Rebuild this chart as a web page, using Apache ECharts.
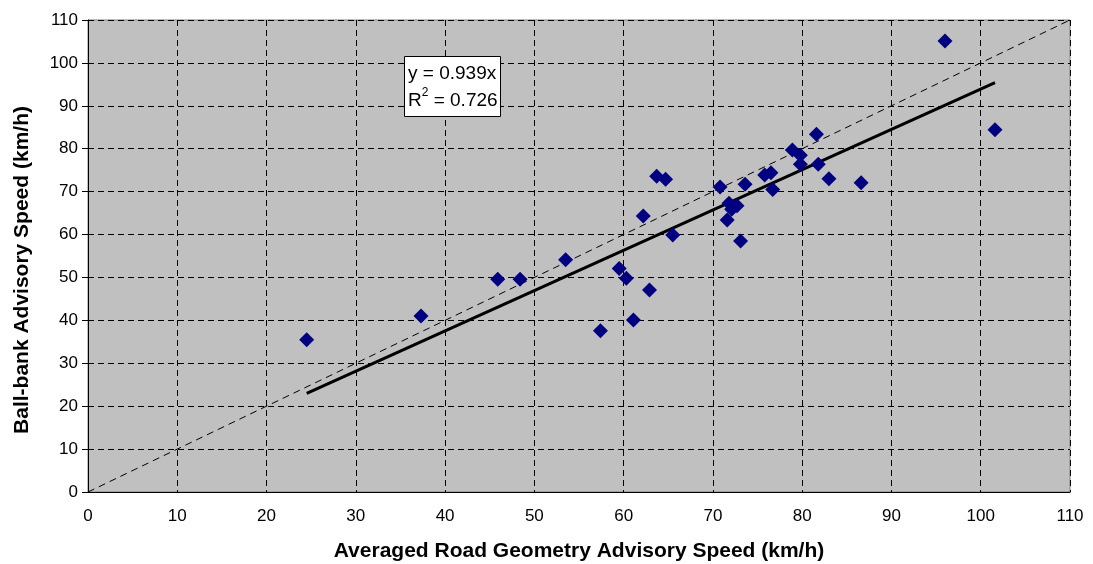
<!DOCTYPE html>
<html>
<head>
<meta charset="utf-8">
<script src="https://cdn.jsdelivr.net/npm/echarts@6/dist/echarts.min.js"></script>
<style>
html,body{margin:0;padding:0;background:#fff;}
#chart{width:1093px;height:564px;}
</style>
</head>
<body>
<div id="chart"></div>
<script>
// Averaged road geometry advisory speed (km/h)
const xValues = [24.5, 37.3, 45.9, 48.4, 53.5, 57.4, 59.5, 60.3, 61.1, 62.9, 62.2, 63.7, 64.7, 65.5, 70.8, 71.8, 72.7, 72.1, 71.6, 73.1, 73.6, 75.8, 76.5, 76.7, 78.9, 79.8, 79.8, 81.6, 81.8, 83.0, 86.6, 96.0, 101.6];
// Ball-bank advisory speed (km/h)
const yValues = [35.5, 41.0, 49.6, 49.6, 54.1, 37.6, 52.1, 49.8, 40.1, 47.1, 64.3, 73.6, 72.9, 59.9, 71.1, 67.3, 66.7, 65.9, 63.4, 58.5, 71.7, 73.9, 74.4, 70.5, 79.7, 78.5, 76.4, 83.4, 76.4, 73.0, 72.1, 105.1, 84.4];
// Trend line y = 0.939x endpoints
const trendX = [24.5, 101.6];
const trendY = [23.0, 95.4];
// Equality line y = x
const equalX = [0, 110];
const equalY = [0, 110];
const equationText = 'y = 0.939x';
const r2Text = '0.726';
const xTitle = 'Averaged Road Geometry Advisory Speed (km/h)';
const yTitle = 'Ball-bank Advisory Speed (km/h)';

const font = '"Liberation Sans", Arial, sans-serif';
const chart = echarts.init(document.getElementById('chart'), null, {renderer: 'canvas'});
const pts = xValues.map((x, i) => [x, yValues[i]]);
const trend = trendX.map((x, i) => [x, trendY[i]]);
const equal = equalX.map((x, i) => [x, equalY[i]]);

chart.setOption({
  animation: false,
  backgroundColor: '#ffffff',
  grid: {
    left: 88, top: 20, right: 23, bottom: 72,
    containLabel: false, outerBoundsMode: 'none',
    show: true, backgroundColor: '#C0C0C0', borderColor: '#808080', borderWidth: 1
  },
  xAxis: {
    type: 'value', min: 0, max: 110, interval: 10,
    name: xTitle, nameLocation: 'middle', nameGap: 49,
    nameTextStyle: {fontFamily: font, fontWeight: 'bold', fontSize: 21, color: '#000'},
    axisLine: {show: true, onZero: false, lineStyle: {color: '#000', width: 1}},
    axisTick: {show: false},
    axisLabel: {fontFamily: font, fontSize: 17, color: '#000', margin: 16},
    splitLine: {show: true, lineStyle: {color: '#000', width: 1, type: [6, 4]}}
  },
  yAxis: {
    type: 'value', min: 0, max: 110, interval: 10,
    name: yTitle, nameLocation: 'middle', nameGap: 55,
    nameTextStyle: {fontFamily: font, fontWeight: 'bold', fontSize: 21, color: '#000', padding: [0, 28, 0, 0]},
    axisLine: {show: true, onZero: false, lineStyle: {color: '#000', width: 1}},
    axisTick: {show: true, length: 6, lineStyle: {color: '#000'}},
    axisLabel: {fontFamily: font, fontSize: 17, color: '#000', margin: 10},
    splitLine: {show: true, lineStyle: {color: '#000', width: 1, type: [6, 4]}}
  },
  series: [
    {
      type: 'line', data: equal, symbol: 'none', silent: true, z: 2,
      lineStyle: {color: '#000', width: 1, type: [7, 5]}
    },
    {
      type: 'line', data: trend, symbol: 'none', silent: true, z: 3,
      lineStyle: {color: '#000', width: 3}
    },
    {
      type: 'scatter', data: pts, symbol: 'diamond', symbolSize: 15, z: 4,
      itemStyle: {color: '#000080', borderWidth: 0, opacity: 1}
    }
  ],
  graphic: [
    {
      type: 'rect', left: 404, top: 56, z: 100,
      shape: {x: 0, y: 0, width: 96, height: 60},
      style: {fill: '#fff', stroke: '#000', lineWidth: 1}
    },
    {
      type: 'text', left: 408, top: 60, z: 101,
      style: {
        text: equationText + '\n{r|R}{s|2}{r| = ' + r2Text + '}',
        fontFamily: font, fontSize: 19, fill: '#000', lineHeight: 27,
        rich: {
          r: {fontFamily: font, fontSize: 19, fill: '#000', lineHeight: 27},
          s: {fontFamily: font, fontSize: 12, fill: '#000', verticalAlign: 'top', lineHeight: 20, padding: [0, 0, 8, 0]}
        }
      }
    }
  ]
});
</script>
</body>
</html>
